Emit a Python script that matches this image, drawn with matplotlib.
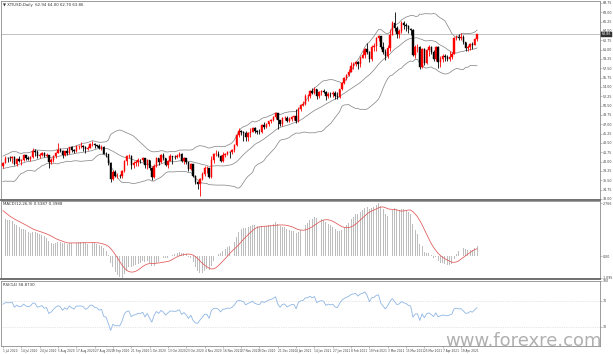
import numpy as np
import pandas as pd
import matplotlib
matplotlib.use("Agg")
import matplotlib.pyplot as plt

symbol = "XTIUSD,Daily"

# closes before the visible window (May-Jun 2020), used only for indicator warm-up
warmup_close = [19.78, 20.39, 24.56, 23.99, 23.55, 24.74, 24.14, 25.78, 25.29, 27.56,
                29.43, 31.82, 32.50, 33.49, 33.92, 33.25, 34.35, 32.81, 33.71, 35.49,
                35.44, 36.81, 37.29, 37.41, 39.55, 38.19, 38.94, 39.60, 36.34, 36.26, 37.12,
                38.38, 37.96, 38.84, 39.75, 40.46, 40.37, 38.01, 38.72, 38.49, 39.70, 39.27]

opens = [
    39.27, 39.82, 40.65, 40.63, 40.62, 40.90, 39.62, 40.55, 40.10, 40.29, 41.20, 40.75, 40.59, 40.81, 41.96, 41.90, 41.07, 41.29, 41.60, 41.04, 41.27, 39.92,
    40.27, 41.01, 41.70, 42.19, 41.95, 41.22, 41.94, 41.61, 42.67, 42.24, 42.01, 42.89, 42.89, 42.93, 42.82, 42.34, 42.62, 43.35, 43.39, 43.04, 42.97,
    42.61, 42.76, 41.51, 41.37, 39.77, 36.76, 38.05, 37.30, 37.33, 37.26, 38.28, 40.16, 40.97, 41.11, 39.31, 39.80, 39.93, 40.31, 40.25, 40.60, 39.29,
    40.22, 38.72, 37.05, 39.22, 40.67, 39.95, 41.19, 40.60, 39.43, 40.20, 41.04, 40.96, 40.88, 41.06, 41.46, 40.03, 40.64, 39.85, 38.56, 39.57, 37.39, 36.17,
    35.79, 36.81, 37.66, 38.79, 38.79, 37.14, 40.29, 41.36, 41.45, 41.12, 40.13, 41.34, 41.43, 41.82, 41.74, 42.15, 43.06, 44.91, 45.71, 45.53,
    45.34, 44.55, 45.28, 45.64, 46.26, 45.76, 45.60, 45.52, 46.78, 46.57, 46.99, 47.62, 47.82, 48.36, 49.10, 47.74, 47.02, 48.12, 48.23, 47.62, 48.00, 48.40,
    48.52, 47.62, 49.93, 50.63, 50.83, 52.24, 52.25, 53.21, 52.91, 53.57, 52.36, 52.98, 53.24, 53.13, 52.27, 52.77, 52.61, 52.85, 52.34,
    52.20, 53.55, 54.76, 55.69, 56.23, 56.85, 57.97, 58.36, 58.68, 58.24, 59.47, 60.05, 61.14, 60.52, 59.24, 61.49, 61.67, 63.22, 63.53,
    61.50, 60.64, 59.75, 61.28, 63.83, 66.09, 65.05, 64.01, 64.44, 66.02, 65.61, 65.39, 64.80, 64.60, 60.00, 61.42, 61.55, 57.76, 61.18, 58.56, 60.97, 61.56, 60.55,
    59.16, 61.45, 58.65, 59.33, 59.77, 59.60, 59.32, 59.70, 60.18, 63.15, 63.46, 63.13, 63.38, 62.44, 61.35, 61.43, 62.14, 61.91, 62.94,
]
highs = [
    39.96, 41.00, 40.93, 41.05, 41.05, 41.00, 40.68, 41.04, 40.50, 41.52, 41.25, 41.00, 41.05, 42.51, 42.40, 42.10, 41.55, 41.80, 41.80, 41.64, 41.30, 40.60,
    41.25, 41.88, 43.52, 42.50, 42.10, 42.05, 42.50, 42.80, 42.95, 42.40, 42.97, 43.10, 43.60, 43.10, 42.98, 42.90, 43.55, 43.78, 43.55, 43.20, 43.25,
    43.10, 42.90, 41.85, 41.45, 39.90, 38.40, 38.50, 37.90, 37.65, 38.40, 40.35, 41.20, 41.47, 41.20, 40.05, 40.25, 40.60, 40.50, 40.90, 40.70, 40.45,
    40.40, 39.00, 39.50, 40.90, 40.75, 41.40, 41.65, 40.70, 40.30, 41.45, 41.15, 41.20, 41.50, 41.75, 41.60, 40.80, 40.70, 39.90, 39.80, 39.60, 37.55, 36.40,
    37.00, 38.10, 39.20, 39.15, 38.80, 41.00, 41.60, 42.20, 41.95, 41.30, 41.80, 41.70, 42.05, 41.95, 42.40, 43.30, 45.20, 46.26, 45.90, 45.70,
    45.80, 45.50, 46.30, 46.50, 46.50, 46.00, 46.20, 47.00, 47.35, 47.30, 47.70, 48.00, 48.60, 49.28, 49.15, 47.90, 48.30, 48.50, 48.60, 48.30, 48.60, 48.60,
    49.80, 50.20, 50.90, 51.30, 52.70, 52.70, 53.40, 53.90, 53.95, 53.70, 53.20, 53.50, 53.60, 53.20, 53.00, 53.00, 53.20, 53.20, 53.00,
    53.70, 54.90, 55.90, 56.40, 57.30, 58.60, 58.60, 58.90, 58.80, 59.80, 60.95, 61.30, 62.20, 60.80, 61.80, 62.20, 63.30, 63.80, 63.60,
    62.50, 61.20, 61.90, 64.86, 66.40, 67.98, 65.40, 64.90, 66.40, 66.30, 66.00, 65.60, 65.00, 64.80, 61.80, 62.10, 61.70, 61.40, 61.30, 61.20, 61.80, 61.70, 60.90,
    61.70, 61.60, 59.80, 60.20, 60.10, 60.00, 60.70, 60.60, 63.30, 63.80, 63.90, 64.10, 63.70, 62.50, 61.90, 62.30, 62.50, 63.10, 64.00,
]
lows = [
    38.75, 39.70, 39.90, 40.15, 39.82, 39.30, 39.22, 39.95, 39.40, 40.20, 40.38, 40.32, 40.10, 40.60, 41.05, 40.75, 40.60, 41.00, 40.85, 40.85, 38.72, 39.50,
    39.95, 40.60, 41.60, 41.80, 40.70, 41.15, 41.25, 41.35, 41.90, 41.65, 41.80, 42.40, 42.60, 42.05, 41.55, 42.10, 42.50, 42.90, 42.56, 42.72, 42.35,
    42.10, 41.35, 40.95, 39.30, 36.13, 36.55, 37.10, 36.90, 36.90, 36.95, 38.05, 39.30, 40.70, 38.60, 38.90, 39.10, 39.20, 39.80, 40.00, 38.90, 38.70,
    38.50, 36.63, 36.90, 38.95, 39.35, 39.80, 40.35, 39.20, 38.90, 40.10, 39.55, 40.55, 40.60, 40.80, 39.90, 39.50, 39.55, 38.20, 38.50, 37.20, 35.90, 34.92,
    33.64, 36.60, 37.25, 37.90, 36.95, 37.00, 39.70, 41.00, 40.80, 39.85, 39.90, 40.90, 41.25, 40.70, 41.50, 41.90, 42.90, 44.60, 45.00, 43.90,
    43.90, 43.80, 44.70, 45.50, 45.40, 45.10, 45.20, 45.40, 46.20, 46.30, 46.70, 47.20, 47.70, 48.00, 46.20, 46.60, 46.70, 47.90, 47.40, 47.50, 47.70, 47.90,
    47.20, 47.40, 49.50, 50.40, 50.70, 51.30, 51.90, 52.60, 52.60, 51.80, 52.00, 52.50, 52.80, 51.50, 51.90, 52.20, 52.10, 51.80, 51.80,
    51.90, 53.40, 54.50, 55.40, 56.00, 56.80, 57.30, 57.90, 57.40, 57.80, 59.40, 59.50, 60.10, 58.60, 58.90, 60.80, 60.70, 62.60, 61.20,
    60.10, 59.00, 59.50, 60.80, 63.70, 64.50, 63.20, 63.20, 64.20, 64.80, 64.50, 64.20, 63.80, 59.80, 59.40, 60.60, 57.30, 57.50, 58.10, 58.40, 59.90, 60.10, 58.90,
    58.90, 57.60, 57.80, 58.70, 58.90, 58.80, 58.90, 59.20, 60.10, 62.80, 62.90, 62.90, 62.10, 60.80, 60.70, 61.00, 61.10, 61.80, 62.70,
]
closes = [
    39.82, 40.65, 40.63, 40.62, 40.90, 39.62, 40.55, 40.10, 40.29, 41.20, 40.75, 40.59, 40.81, 41.96, 41.90, 41.07, 41.29, 41.60, 41.04, 41.27, 39.92, 40.27,
    41.01, 41.70, 42.19, 41.95, 41.22, 41.94, 41.61, 42.67, 42.24, 42.01, 42.89, 42.89, 42.93, 42.82, 42.34, 42.62, 43.35, 43.39, 43.04, 42.97, 42.61,
    42.76, 41.51, 41.37, 39.77, 36.76, 38.05, 37.30, 37.33, 37.26, 38.28, 40.16, 40.97, 41.11, 39.31, 39.80, 39.93, 40.31, 40.25, 40.60, 39.29, 40.22,
    38.72, 37.05, 39.22, 40.67, 39.95, 41.19, 40.60, 39.43, 40.20, 41.04, 40.96, 40.88, 41.06, 41.46, 40.03, 40.64, 39.85, 38.56, 39.57, 37.39, 36.17, 35.79,
    36.81, 37.66, 38.79, 38.79, 37.14, 40.29, 41.36, 41.45, 41.12, 40.13, 41.34, 41.43, 41.82, 41.74, 42.15, 43.06, 44.91, 45.71, 45.53, 45.34,
    44.55, 45.28, 45.64, 46.26, 45.76, 45.60, 45.52, 46.78, 46.57, 46.99, 47.62, 47.82, 48.36, 49.10, 47.74, 47.02, 48.12, 48.23, 47.62, 48.00, 48.40, 48.52,
    47.62, 49.93, 50.63, 50.83, 52.24, 52.25, 53.21, 52.91, 53.57, 52.36, 52.98, 53.24, 53.13, 52.27, 52.77, 52.61, 52.85, 52.34, 52.20,
    53.55, 54.76, 55.69, 56.23, 56.85, 57.97, 58.36, 58.68, 58.24, 59.47, 60.05, 61.14, 60.52, 59.24, 61.49, 61.67, 63.22, 63.53, 61.50,
    60.64, 59.75, 61.28, 63.83, 66.09, 65.05, 64.01, 64.44, 66.02, 65.61, 65.39, 64.80, 64.60, 60.00, 61.42, 61.55, 57.76, 61.18, 58.56, 60.97, 61.56, 60.55, 59.16,
    61.45, 58.65, 59.33, 59.77, 59.60, 59.32, 59.70, 60.18, 63.15, 63.46, 63.13, 63.38, 62.44, 61.35, 61.43, 62.14, 61.91, 62.94, 63.86,
]

holidays = ["2020-07-03", "2020-09-07", "2020-11-26", "2020-12-25",
            "2021-01-01", "2021-01-18", "2021-02-15", "2021-04-02"]
dates = pd.bdate_range("2020-07-01", "2021-04-28")
dates = dates[~dates.isin(pd.to_datetime(holidays))]

price_ticks = np.arange(33.0, 69.76, 1.75)

# ---------------- indicators ----------------
o = np.array(opens); h = np.array(highs); l = np.array(lows); c = np.array(closes)
n = len(c)
full = pd.Series(warmup_close + closes)
nw = len(warmup_close)
mid = full.rolling(20).mean()
sd = full.rolling(20).std(ddof=0)
bb_mid = mid.values[nw:]
bb_up = (mid + 2 * sd).values[nw:]
bb_lo = (mid - 2 * sd).values[nw:]
ema12 = full.ewm(span=12, adjust=False).mean()
ema26 = full.ewm(span=26, adjust=False).mean()
macd_full = ema12 - ema26
sig_full = macd_full.rolling(9).mean()
macd = macd_full.values[nw:]
sig = sig_full.values[nw:]
delta = full.diff()
gain = delta.clip(lower=0).ewm(alpha=1 / 14, adjust=False).mean()
loss = (-delta.clip(upper=0)).ewm(alpha=1 / 14, adjust=False).mean()
rsi = (100 - 100 / (1 + gain / loss)).values[nw:]

# ---------------- figure ----------------
W, H = 613, 354
fig = plt.figure(figsize=(W / 100, H / 100), dpi=100)
fig.patch.set_facecolor("white")


def rect(x0, y0, x1, y1):
    return [x0 / W, 1 - y1 / H, (x1 - x0) / W, (y1 - y0) / H]


ax1 = fig.add_axes(rect(1, 1, 600, 200))
ax2 = fig.add_axes(rect(1, 201, 600, 279))
ax3 = fig.add_axes(rect(1, 281, 600, 346))

x = np.arange(n)
xmin, xmax = -0.87, 260.7
lab_col = "#404040"
fs = 2.3
for ax in (ax1, ax2, ax3):
    ax.set_xlim(xmin, xmax)
    ax.set_facecolor("white")
    for s in ax.spines.values():
        s.set_color("#8c8c8c")
        s.set_linewidth(0.6)
    ax.yaxis.tick_right()
    ax.tick_params(axis="y", labelsize=fs, colors="#8c8c8c", labelcolor=lab_col,
                   length=1.2, width=0.4, pad=0.6)
    ax.tick_params(axis="x", bottom=False, labelbottom=False)
for ax in (ax1, ax2):
    ax.spines["bottom"].set_linewidth(1.4)
    ax.spines["bottom"].set_color("#707070")

# ---- candles ----
up = c >= o
colors = np.where(up, "#ff0000", "#000000")
ax1.vlines(x, l, h, colors=colors, linewidth=0.6, zorder=3)
body_bot = np.minimum(o, c)
body_h = np.maximum(np.abs(c - o), 0.05)
ax1.bar(x, body_h, bottom=body_bot, width=0.62, color=colors, edgecolor=colors,
        linewidth=0.3, zorder=4)

band_col = "#8a8a8a"
for b in (bb_up, bb_mid, bb_lo):
    ax1.plot(x, b, color=band_col, lw=0.55, zorder=2)

ax1.axhline(c[-1], color="#a8a8a8", lw=0.5, zorder=1)
ax1.set_ylim(32.81, 70.125)
ax1.set_yticks(price_ticks)
ax1.set_yticklabels([f"{v:.2f}" for v in price_ticks])
ax1.text(1.003, c[-1], f"{c[-1]:.2f}", transform=ax1.get_yaxis_transform(),
         fontsize=fs, color="white", va="center", ha="left",
         bbox=dict(boxstyle="square,pad=0.25", fc="#303030", ec="#303030", lw=0.3),
         zorder=10, clip_on=False)
ax1.text(0.004, 0.992, "\u25bc " + f"{symbol}  {o[-1]:.2f} {h[-1]:.2f} {l[-1]:.2f} {c[-1]:.2f}",
         transform=ax1.transAxes, fontsize=2.8, color="#303030", va="top", ha="left")

# ---- MACD ----
ax2.bar(x, macd, width=0.42, color="#bdbdbd", zorder=2)
ax2.plot(x, sig, color="#e05555", lw=0.55, zorder=3)
mx, mn = np.nanmax(np.r_[macd, sig]), np.nanmin(np.r_[macd, sig])
rng = mx - mn
ax2.set_ylim(mn - 0.02 * rng, mx + 0.03 * rng)
ax2.set_yticks([mx, 0, mn])
ax2.set_yticklabels([f"{mx:.3f}", "0.00", f"{mn:.3f}"])
ax2.text(0.004, 0.985, f"MACD(12,26,9) {macd[-1]:.4f} {sig[-1]:.4f}",
         transform=ax2.transAxes, fontsize=2.8, color="#303030", va="top", ha="left")

# ---- RSI ----
ax3.plot(x, rsi, color="#8fb6e3", lw=0.6, zorder=3)
for lev in (70, 30):
    ax3.axhline(lev, color="#cfcfcf", lw=0.5, ls=(0, (1, 1.5)), zorder=1)
ax3.set_ylim(0, 100)
ax3.set_yticks([100, 70, 30])
ax3.set_yticklabels(["100", "70", "30"])
ax3.text(0.004, 0.975, f"RSI(14) {rsi[-1]:.4f}",
         transform=ax3.transAxes, fontsize=2.8, color="#303030", va="top", ha="left")

tick_idx = np.arange(0, n, 8)
ax3.set_xticks(tick_idx)
ax3.set_xticklabels([f"{dates[i].day} {dates[i].strftime('%b %Y')}" for i in tick_idx],
                    ha="left")
ax3.tick_params(axis="x", bottom=True, labelbottom=True, labelsize=2.1,
                colors="#8c8c8c", labelcolor=lab_col, length=1.5, width=0.4, pad=1)

fig.text(602 / W, 1 - 346 / H, "www.forexre.com", ha="right", va="baseline",
         fontsize=13, color="#b0b0b0", zorder=20)

fig.savefig("out.png", dpi=100, facecolor="white")
